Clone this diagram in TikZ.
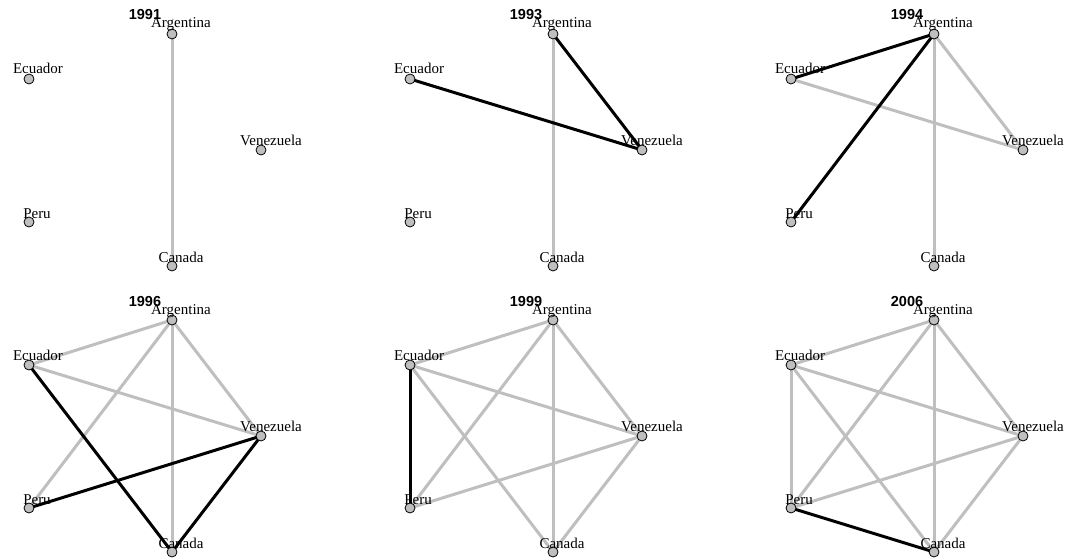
\documentclass[tikz,border=0pt]{standalone}
\usepackage{fontspec}
\setmainfont{Liberation Serif}
\newfontfamily\titlefont{Liberation Sans}
\usepackage{tikz}
\usetikzlibrary{positioning, backgrounds}
\tikzset{
    country/.style={circle, draw=black, fill=black!25, line width=0.8pt, minimum size=10pt, inner sep=0pt},
    countrylabel/.style={anchor=base, inner sep=0pt, font=\fontsize{15}{15}\selectfont},
    yeartitle/.style={anchor=base, inner sep=0pt, font=\titlefont\bfseries\fontsize{14.5}{14.5}\selectfont},
    oldtie/.style={draw=black!25, line width=3pt},
    newtie/.style={draw=black, line width=3pt},
}

\begin{document}
\begin{tikzpicture}[x=1pt, y=-1pt]
\useasboundingbox (0,0) rectangle (1070,559);

% one panel per year: 3 columns, 2 rows
\foreach \col/\row/\yr [count=\p] in {0/0/1991, 1/0/1993, 2/0/1994, 0/1/1996, 1/1/1999, 2/1/2006} {
  \begin{scope}[shift={(381*\col,286*\row)}]
    \node[yeartitle] (year\p) at (145,20) {\yr};
    \node[country] (arg\p) at (172,34) {};
    \node[country] (ecu\p) at (29,79) {};
    \node[country] (ven\p) at (261,150) {};
    \node[country] (per\p) at (29,222) {};
    \node[country] (can\p) at (172,266) {};
    \node[countrylabel] (argl\p) at (181,28) {Argentina};
    \node[countrylabel] (ecul\p) at (38,74) {Ecuador};
    \node[countrylabel] (venl\p) at (271,145) {Venezuela};
    \node[countrylabel] (perl\p) at (37,218) {Peru};
    \node[countrylabel] (canl\p) at (181,262) {Canada};
  \end{scope}
}

\begin{scope}[on background layer]
% 1991
\draw[oldtie] (arg1.center) -- (can1.center);
% 1993
\draw[oldtie] (arg2.center) -- (can2.center);
\draw[newtie] (arg2.center) -- (ven2.center);
\draw[newtie] (ecu2.center) -- (ven2.center);
% 1994
\draw[oldtie] (arg3.center) -- (can3.center);
\draw[oldtie] (arg3.center) -- (ven3.center);
\draw[oldtie] (ecu3.center) -- (ven3.center);
\draw[newtie] (arg3.center) -- (ecu3.center);
\draw[newtie] (arg3.center) -- (per3.center);
% 1996
\draw[oldtie] (arg4.center) -- (ecu4.center);
\draw[oldtie] (arg4.center) -- (per4.center);
\draw[oldtie] (arg4.center) -- (ven4.center);
\draw[oldtie] (arg4.center) -- (can4.center);
\draw[oldtie] (ecu4.center) -- (ven4.center);
\draw[newtie] (ecu4.center) -- (can4.center);
\draw[newtie] (per4.center) -- (ven4.center);
\draw[newtie] (ven4.center) -- (can4.center);
% 1999
\draw[oldtie] (arg5.center) -- (ecu5.center);
\draw[oldtie] (arg5.center) -- (per5.center);
\draw[oldtie] (arg5.center) -- (ven5.center);
\draw[oldtie] (arg5.center) -- (can5.center);
\draw[oldtie] (ecu5.center) -- (ven5.center);
\draw[oldtie] (ecu5.center) -- (can5.center);
\draw[oldtie] (per5.center) -- (ven5.center);
\draw[oldtie] (ven5.center) -- (can5.center);
\draw[newtie] (ecu5.center) -- (per5.center);
% 2006
\draw[oldtie] (arg6.center) -- (ecu6.center);
\draw[oldtie] (arg6.center) -- (per6.center);
\draw[oldtie] (arg6.center) -- (ven6.center);
\draw[oldtie] (arg6.center) -- (can6.center);
\draw[oldtie] (ecu6.center) -- (ven6.center);
\draw[oldtie] (ecu6.center) -- (can6.center);
\draw[oldtie] (per6.center) -- (ven6.center);
\draw[oldtie] (ven6.center) -- (can6.center);
\draw[oldtie] (ecu6.center) -- (per6.center);
\draw[newtie] (per6.center) -- (can6.center);
\end{scope}
\end{tikzpicture}
\end{document}
